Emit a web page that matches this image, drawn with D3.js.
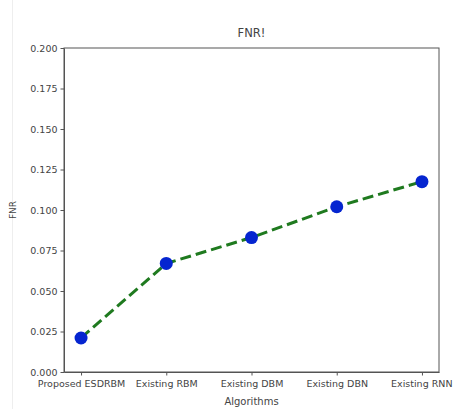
<!DOCTYPE html>
<html>
  <head>
    <meta charset="utf-8">
    <script src="https://cdn.jsdelivr.net/npm/d3@7"></script>
    <style>
      body { margin: 0; background: #fff; }
      .axis text { font-family: "DejaVu Sans", sans-serif; font-size: 9.5px; fill: #444; }
      .axis path, .axis line { stroke: #555; }
    </style>
  </head>
  <body>
    <script>
      // chart data
      var algorithms = ["Proposed ESDRBM", "Existing RBM", "Existing DBM", "Existing DBN", "Existing RNN"];
      var fnrValues = [0.021, 0.067, 0.083, 0.102, 0.1175];
      var yTicks = [0, 0.025, 0.05, 0.075, 0.1, 0.125, 0.15, 0.175, 0.2];

      var width = 453, height = 409;
      var margin = {top: 48, right: 14, bottom: 37, left: 64};

      var svg = d3.select("body").append("svg")
        .attr("width", width)
        .attr("height", height);

      // matplotlib style 5% margin on the x axis
      var xScale = d3.scaleLinear()
        .domain([-0.2, algorithms.length - 1 + 0.2])
        .range([margin.left, width - margin.right]);

      var yScale = d3.scaleLinear()
        .domain([0, 0.2])
        .range([height - margin.bottom, margin.top]);

      // faint border at the left of the image
      svg.append("line")
        .attr("x1", 12.5).attr("x2", 12.5)
        .attr("y1", 0).attr("y2", height)
        .attr("stroke", "#eee");

      // x axis
      var xAxis = svg.append("g")
        .attr("class", "axis")
        .attr("transform", "translate(0," + (height - margin.bottom) + ")")
        .call(d3.axisBottom(xScale)
          .tickValues(d3.range(algorithms.length))
          .tickFormat(function(d) { return algorithms[d]; })
          .tickSize(3.5).tickSizeOuter(0));
      xAxis.selectAll("text").attr("dy", "0.9em");
      // keep the last label inside the page
      xAxis.selectAll(".tick").filter(function(d) { return d === algorithms.length - 1; })
        .select("text").attr("text-anchor", "end").attr("x", width - 1 - xScale(algorithms.length - 1));

      // y axis
      svg.append("g")
        .attr("class", "axis")
        .attr("transform", "translate(" + margin.left + ",0)")
        .call(d3.axisLeft(yScale)
          .tickValues(yTicks)
          .tickFormat(d3.format(".3f"))
          .tickSize(3.5).tickSizeOuter(0));

      // frame
      svg.append("rect")
        .attr("x", margin.left)
        .attr("y", margin.top)
        .attr("width", width - margin.left - margin.right)
        .attr("height", height - margin.top - margin.bottom)
        .attr("fill", "none")
        .attr("stroke", "#555");

      // dashed line
      var line = d3.line()
        .x(function(d, i) { return xScale(i); })
        .y(function(d) { return yScale(d); });

      svg.append("path")
        .datum(fnrValues)
        .attr("d", line)
        .attr("fill", "none")
        .attr("stroke", "#1f7a1f")
        .attr("stroke-width", 3)
        .attr("stroke-dasharray", "11,5");

      // markers
      svg.selectAll("circle")
        .data(fnrValues)
        .enter()
        .append("circle")
        .attr("cx", function(d, i) { return xScale(i); })
        .attr("cy", function(d) { return yScale(d); })
        .attr("r", 6.5)
        .attr("fill", "#0525d0");

      // title
      svg.append("text")
        .attr("x", (margin.left + width - margin.right) / 2)
        .attr("y", 37)
        .attr("text-anchor", "middle")
        .style("font-family", "DejaVu Sans, sans-serif")
        .style("font-size", "11.5px")
        .style("fill", "#444")
        .text("FNR!");

      // axis labels
      svg.append("text")
        .attr("x", (margin.left + width - margin.right) / 2)
        .attr("y", 405)
        .attr("text-anchor", "middle")
        .style("font-family", "DejaVu Sans, sans-serif")
        .style("font-size", "10px")
        .style("fill", "#444")
        .text("Algorithms");

      svg.append("text")
        .attr("transform", "translate(16," + ((margin.top + height - margin.bottom) / 2) + ")rotate(-90)")
        .attr("text-anchor", "middle")
        .style("font-family", "DejaVu Sans, sans-serif")
        .style("font-size", "9px")
        .style("fill", "#444")
        .text("FNR");
    </script>
  </body>
</html>
